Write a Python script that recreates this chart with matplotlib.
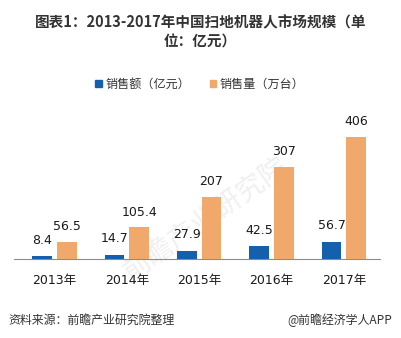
import matplotlib
matplotlib.use("Agg")
import matplotlib.pyplot as plt
import numpy as np
from matplotlib.patches import Patch

plt.rcParams['font.family'] = ['Noto Sans CJK SC', 'DejaVu Sans']

categories = ["2013年", "2014年", "2015年", "2016年", "2017年"]
sales_value = [8.4, 14.7, 27.9, 42.5, 56.7]      # 销售额（亿元）
sales_volume = [56.5, 105.4, 207, 307, 406]      # 销售量（万台）
value_labels = ["8.4", "14.7", "27.9", "42.5", "56.7"]
volume_labels = ["56.5", "105.4", "207", "307", "406"]

blue = "#1560ad"
orange = "#f0a86b"
num_font = ['DejaVu Sans', 'Noto Sans CJK SC']

W, H = 401, 338
fig = plt.figure(figsize=(W / 100, H / 100), dpi=100)

ax_left, ax_right = 14, 380
ax_top, ax_bottom = 120, 259
ax = fig.add_axes([ax_left / W, (H - ax_bottom) / H, (ax_right - ax_left) / W, (ax_bottom - ax_top) / H])

x = np.arange(len(categories))
bw = 0.27
gap = 0.035
b1 = ax.bar(x - bw / 2 - gap, sales_value, width=bw, color=blue, zorder=3)
b2 = ax.bar(x + bw / 2 + gap, sales_volume, width=bw, color=orange, zorder=3)

for rect, lab in zip(b1, value_labels):
    ax.annotate(lab, (rect.get_x() + rect.get_width() / 2, rect.get_height()),
                xytext=(0, 11.5), textcoords="offset points", ha="center", va="center",
                fontsize=9, family=num_font, color="#1a1a1a", zorder=4)
for rect, lab in zip(b2, volume_labels):
    ax.annotate(lab, (rect.get_x() + rect.get_width() / 2, rect.get_height()),
                xytext=(0, 11), textcoords="offset points", ha="center", va="center",
                fontsize=9, family=num_font, color="#1a1a1a", zorder=4)

ax.set_xlim(-0.56, 4.5)
ax.set_ylim(0, 406 * (ax_bottom - ax_top) / 122)
ax.set_xticks(x)
ax.set_xticklabels(categories, fontsize=9, family=num_font, color="#1a1a1a")
ax.tick_params(axis="x", length=0, pad=11)
ax.set_yticks([])
for s in ["top", "right", "left"]:
    ax.spines[s].set_visible(False)
ax.spines["bottom"].set_color("#8c8c8c")
ax.spines["bottom"].set_linewidth(0.8)
ax.patch.set_alpha(0)

# faint watermark behind bars
ax.text(2.1, 130, "前瞻产业研究院", rotation=35, ha="center", va="center",
        fontsize=20, color="#f0f0f0", zorder=1, clip_on=False)

# title
fig.text(0.5, 1 - 22 / H, "图表1：2013-2017年中国扫地机器人市场规模（单", ha="center", va="center",
         fontsize=10.5, fontweight="bold", color="#333333")
fig.text(0.5, 1 - 42 / H, "位：亿元）", ha="center", va="center",
         fontsize=10.5, fontweight="bold", color="#333333")

# legend
handles = [Patch(color=blue, label="销售额（亿元）"), Patch(color=orange, label="销售量（万台）")]
fig.legend(handles=handles, loc="center", bbox_to_anchor=(200 / W, 1 - 84 / H), ncol=2,
           frameon=False, fontsize=8.7, handlelength=0.55, handleheight=0.55, handletextpad=0.3,
           columnspacing=1.6, labelcolor="#333333")

# footer
fig.text(8 / W, 1 - 320 / H, "资料来源：前瞻产业研究院整理", ha="left", va="center",
         fontsize=8.6, style="italic", color="#333333")
fig.text(392 / W, 1 - 320 / H, "@前瞻经济学人APP", ha="right", va="center",
         fontsize=8.6, color="#333333")

fig.savefig("out.png", dpi=100, facecolor="white")
